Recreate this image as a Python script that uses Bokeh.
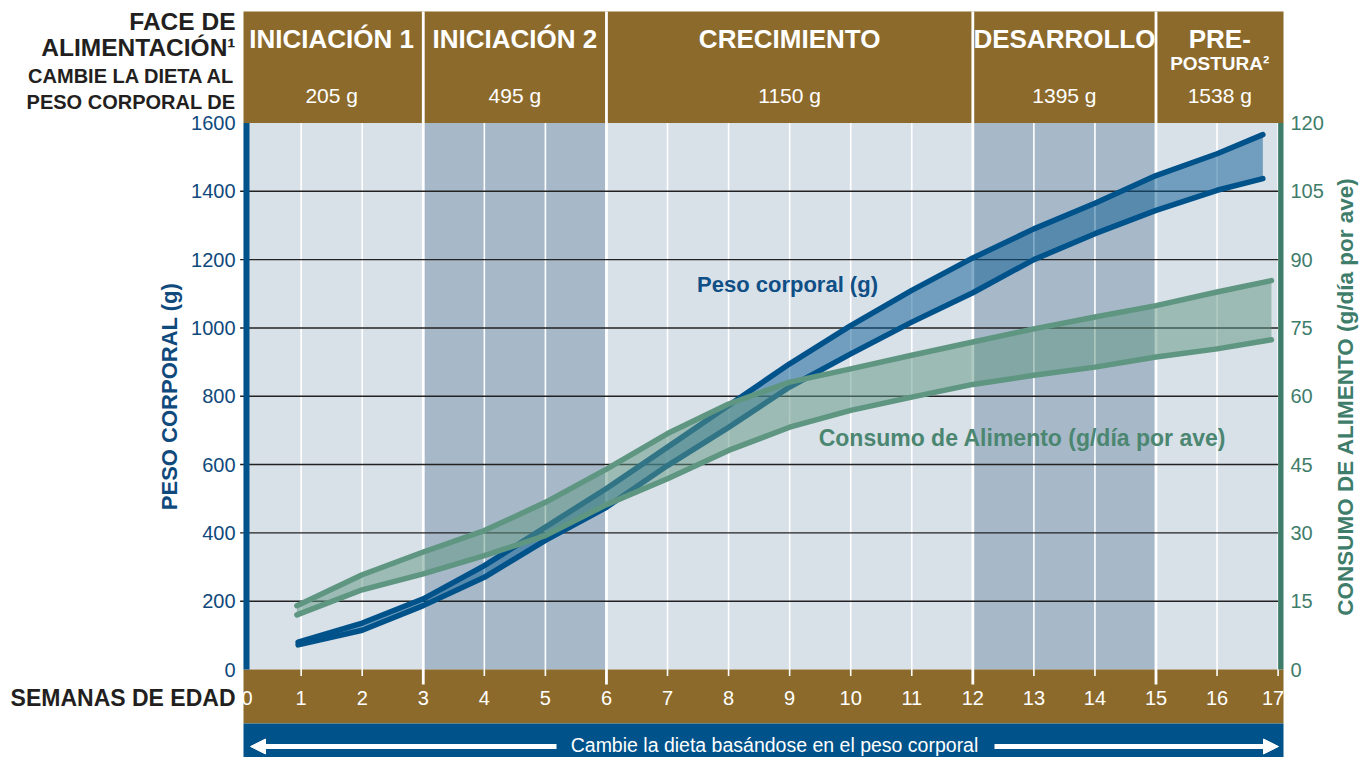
import math
from bokeh.plotting import figure
from bokeh.models import Range1d, Arrow, NormalHead
from bokeh.core.properties import value
from bokeh.embed import file_html
from bokeh.resources import INLINE

# ---------------- data ----------------
phase_names = ["INICIACIÓN 1", "INICIACIÓN 2", "CRECIMIENTO", "DESARROLLO", "PRE-"]
phase_sub = ["", "", "", "", "POSTURA²"]
phase_weights = ["205 g", "495 g", "1150 g", "1395 g", "1538 g"]
phase_bounds = [0, 3, 6, 12, 15, 17]
shade_start = [3, 12]
shade_end = [6, 15]

week_ticks = list(range(0, 18))
bw_ticks = [0, 200, 400, 600, 800, 1000, 1200, 1400, 1600]
feed_ticks = [0, 15, 30, 45, 60, 75, 90, 105, 120]

bw_weeks = [0.95, 2, 3, 4, 5, 6, 7, 8, 9, 10, 11, 12, 13, 14, 15, 16, 16.75]
bw_upper = [80, 136, 207, 304, 417, 530, 651, 773, 895, 1007, 1110, 1205, 1290, 1365, 1446, 1510, 1566]
bw_lower = [72, 115, 187, 270, 378, 475, 597, 709, 827, 924, 1017, 1103, 1200, 1276, 1344, 1403, 1437]

feed_weeks = [0.93, 2, 3, 4, 5, 6, 7, 8, 9, 10, 11, 12, 13, 14, 15, 16, 16.89]
feed_upper = [14.0, 20.8, 25.8, 30.5, 36.7, 44.0, 51.8, 58.3, 63.1, 66.0, 69.0, 71.9, 74.8, 77.4, 79.9, 82.9, 85.4]
feed_lower = [12.0, 17.5, 21.0, 25.0, 29.4, 36.2, 41.9, 48.1, 53.2, 56.9, 59.8, 62.6, 64.6, 66.4, 68.6, 70.4, 72.4]

left_titles = ["FACE DE", "ALIMENTACIÓN¹", "CAMBIE LA DIETA AL", "PESO CORPORAL DE", "SEMANAS DE EDAD"]
bw_title = "PESO CORPORAL (g)"
feed_title = "CONSUMO DE ALIMENTO (g/día por ave)"
bw_series = "Peso corporal (g)"
feed_series = "Consumo de Alimento (g/día por ave)"
band_note = "Cambie la dieta basándose en el peso corporal"

# ---------------- geometry helpers (canvas pixels -> data) ----------------
W, H = 1366, 757
PX_PER_G = 546.5 / 1600.0
PX_PER_WK = 61.06
X0_PX = 239.6
Y0_PX = 669.0

def gy(py):
    return (Y0_PX - py) / PX_PER_G

def wx(px):
    return (px - X0_PX) / PX_PER_WK

FEED_K = 120.0 / 1600.0

BROWN = "#8c6a2b"
NAVY = "#00528a"
BLUE_TXT = "#10497c"
GREEN_BAR = "#3f7d6b"
GREEN_LINE = "#5f9682"
GREEN_TXT = "#4b8671"
PLOT_BG = "#d8e0e8"
SHADE = "#a7b9c9"
DARK = "#231f20"
FONT = value("Liberation Sans")

FL, FR, FT = 243, 1283, 11
y_start, y_end = gy(H), gy(0)

p = figure(frame_width=W, frame_height=H,
           min_border_left=0, min_border_right=0, min_border_top=0, min_border_bottom=0,
           x_range=Range1d(wx(0), wx(W)), y_range=Range1d(y_start, y_end),
           x_axis_location=None, y_axis_location=None,
           output_backend="svg", toolbar_location=None)
p.outline_line_color = None
p.grid.visible = False
p.background_fill_color = "white"
p.border_fill_color = "white"
p.extra_y_ranges = {"feed": Range1d(y_start * FEED_K, y_end * FEED_K)}

top_val = bw_ticks[-1]
xl, xr = wx(FL), wx(FR)

# backgrounds
p.quad(left=[xl], right=[week_ticks[-1]], bottom=[0], top=[top_val], fill_color=PLOT_BG, line_color=None)
p.quad(left=shade_start, right=shade_end, bottom=0, top=top_val, fill_color=SHADE, line_color=None)
p.quad(left=[xl], right=[xr], bottom=[top_val], top=[gy(FT)], fill_color=BROWN, line_color=None)
p.quad(left=[xl], right=[xr], bottom=[gy(723)], top=[0], fill_color=BROWN, line_color=None)
p.quad(left=[xl], right=[xr], bottom=[y_start], top=[gy(723)], fill_color=NAVY, line_color=None)

# week grid lines + ticks
inner = [w for w in week_ticks if w not in phase_bounds[1:-1] and w > 0]
p.segment(x0=inner, x1=inner, y0=gy(675.5), y1=top_val, line_color="white", line_width=1.6)
bnd = phase_bounds[1:-1]
p.segment(x0=bnd, x1=bnd, y0=gy(684), y1=gy(FT), line_color="white", line_width=2.8)

# horizontal grid
hg = bw_ticks[1:-1]
p.segment(x0=0, x1=week_ticks[-1], y0=hg, y1=hg, line_color="#222222", line_width=1.4)

# body weight band
p.varea(x=bw_weeks, y1=bw_lower, y2=bw_upper, fill_color="#0a5b94", fill_alpha=0.5)
for ys in (bw_upper, bw_lower):
    p.line(bw_weeks, ys, line_color=NAVY, line_width=5.5, line_cap="round", line_join="round")

# feed band
p.varea(x=feed_weeks, y1=feed_lower, y2=feed_upper, fill_color=GREEN_LINE, fill_alpha=0.5, y_range_name="feed")
for ys in (feed_upper, feed_lower):
    p.line(feed_weeks, ys, line_color=GREEN_LINE, line_width=5.5, line_cap="round", line_join="round",
           y_range_name="feed")

# side bars (axis lines)
p.quad(left=[xl], right=[wx(249)], bottom=[0], top=[top_val], fill_color=NAVY, line_color=None)
p.quad(left=[week_ticks[-1]], right=[xr], bottom=[0], top=[top_val], fill_color=GREEN_BAR, line_color=None)

# y tick labels (left: body weight, right: feed)
p.text(x=wx(235), y=bw_ticks, text=[str(t) for t in bw_ticks], text_align="right",
       text_baseline="middle", text_color=BLUE_TXT, text_font=FONT, text_font_size="20px")
p.text(x=wx(1290), y=feed_ticks, text=[str(t) for t in feed_ticks], text_align="left",
       text_baseline="middle", text_color=GREEN_BAR, text_font=FONT, text_font_size="20px",
       y_range_name="feed")

# week labels in brown band
offs = [7 if w == week_ticks[0] else (-5 if w == week_ticks[-1] else 0) for w in week_ticks]
p.text(x=week_ticks, y=gy(697), text=[str(w) for w in week_ticks], x_offset=offs,
       text_align="center", text_baseline="middle", text_color="white",
       text_font=FONT, text_font_size="20px")

# header texts
ends = phase_bounds[1:-1] + [xr]
centers = [(a + b) / 2 for a, b in zip(phase_bounds[:-1], ends)]
p.text(x=centers, y=gy(38), text=phase_names, text_align="center", text_baseline="middle",
       text_color="white", text_font=FONT, text_font_style="bold", text_font_size="26px")
p.text(x=centers, y=gy(63), text=phase_sub, text_align="center", text_baseline="middle",
       text_color="white", text_font=FONT, text_font_style="bold", text_font_size="19px")
p.text(x=centers, y=gy(95), text=phase_weights, text_align="center", text_baseline="middle",
       text_color="white", text_font=FONT, text_font_size="21px")

# bottom band text + arrows
p.text(x=[wx(774)], y=[gy(744)], text=[band_note], text_align="center", text_baseline="middle",
       text_color="white", text_font=FONT, text_font_size="19.5px")
for xs, xe in ((wx(556), wx(250)), (wx(994), wx(1278))):
    p.add_layout(Arrow(x_start=xs, y_start=gy(746), x_end=xe, y_end=gy(746),
                       line_color="white", line_width=5,
                       end=NormalHead(size=15, fill_color="white", line_color="white", line_width=1)))

# left side titles
p.text(x=wx(235), y=[gy(21), gy(47)], text=left_titles[:2], text_align="right", text_baseline="middle",
       text_color=DARK, text_font=FONT, text_font_style="bold", text_font_size="24.5px")
p.text(x=wx(235), y=[gy(75), gy(101)], text=left_titles[2:4], text_align="right", text_baseline="middle",
       text_color=DARK, text_font=FONT, text_font_style="bold", text_font_size="20px")
p.text(x=wx(235), y=[gy(697)], text=left_titles[4:], text_align="right", text_baseline="middle",
       text_color=DARK, text_font=FONT, text_font_style="bold", text_font_size="23px")

# axis titles (vertical)
p.text(x=[wx(169)], y=[gy(396)], text=[bw_title], angle=math.pi / 2, text_align="center",
       text_baseline="middle", text_color=BLUE_TXT, text_font=FONT, text_font_style="bold",
       text_font_size="22px")
p.text(x=[wx(1345)], y=[gy(396)], text=[feed_title], angle=math.pi / 2, text_align="center",
       text_baseline="middle", text_color=GREEN_BAR, text_font=FONT, text_font_style="bold",
       text_font_size="22.5px")

# series labels
p.text(x=[wx(787)], y=[gy(284)], text=[bw_series], text_align="center", text_baseline="middle",
       text_color="#0f4f86", text_font=FONT, text_font_style="bold", text_font_size="22px")
p.text(x=[wx(1022)], y=[gy(437)], text=[feed_series], text_align="center", text_baseline="middle",
       text_color=GREEN_TXT, text_font=FONT, text_font_style="bold", text_font_size="23px")

open("out.html", "w").write(file_html(p, INLINE))
